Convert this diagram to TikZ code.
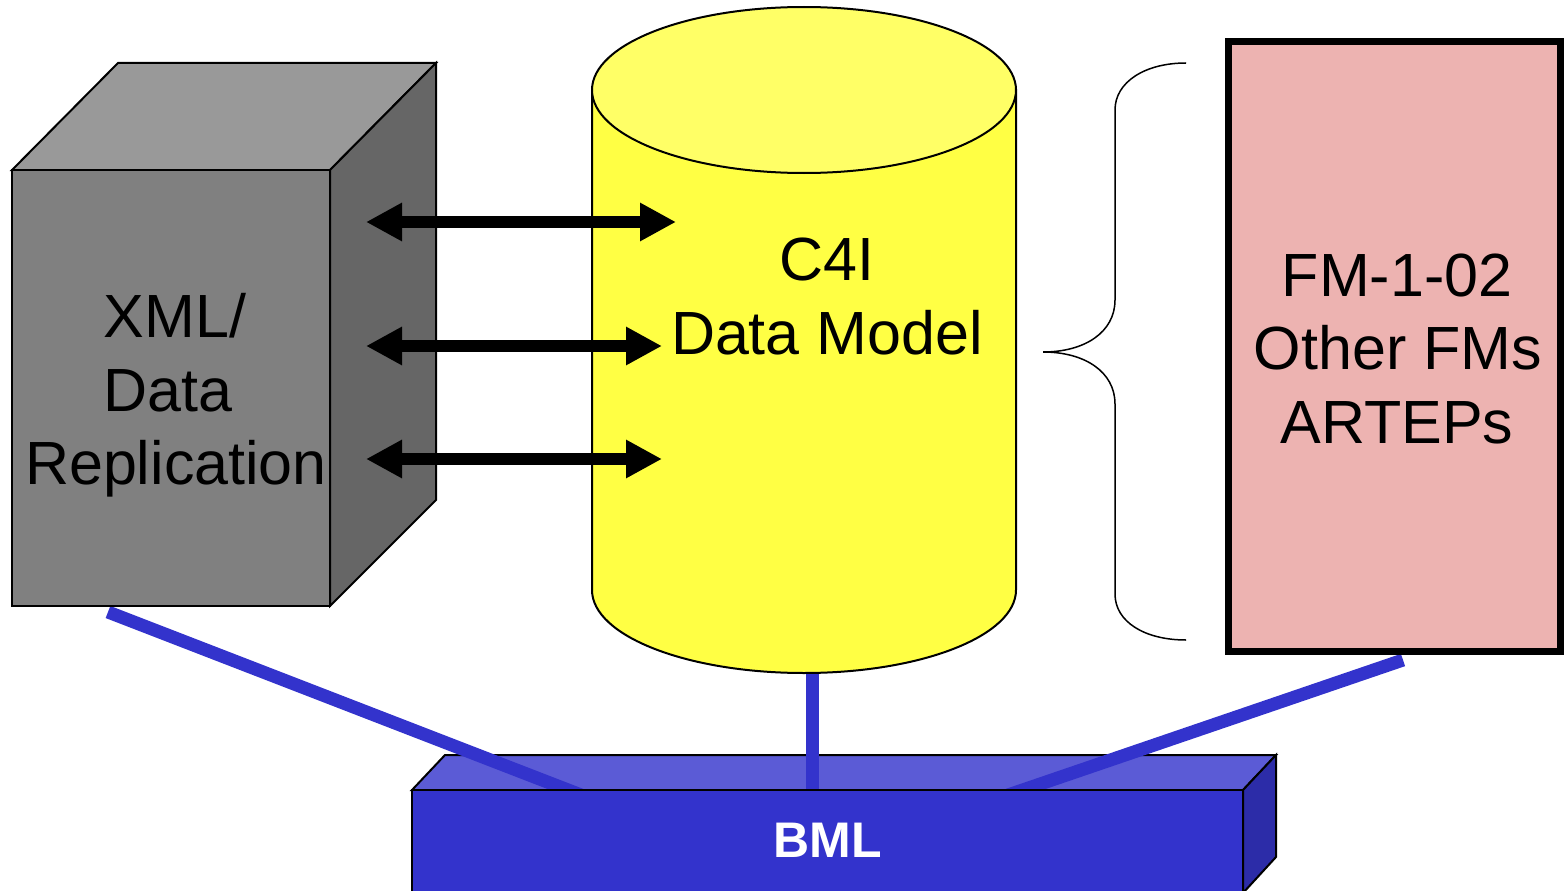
\documentclass[tikz,border=0pt]{standalone}
\usepackage{fontspec}
\setmainfont{Liberation Sans}
\usetikzlibrary{arrows.meta}
\definecolor{cubefront}{HTML}{808080}
\definecolor{cubetop}{HTML}{999999}
\definecolor{cubeside}{HTML}{666666}
\definecolor{cylside}{HTML}{FFFF44}
\definecolor{cyltop}{HTML}{FFFF66}
\definecolor{fmpink}{HTML}{EDB3B1}
\definecolor{bmlfront}{HTML}{3333CC}
\definecolor{bmltop}{HTML}{5B5BD6}
\definecolor{bmlside}{HTML}{2C2CA8}
\begin{document}
\begin{tikzpicture}[x=1pt,y=-1pt,
  outline/.style={draw=black,line width=2pt,line join=miter},
  label/.style={font=\fontsize{61}{74}\selectfont,anchor=base,inner sep=0pt},
  buslabel/.style={font=\fontsize{50}{60}\selectfont\bfseries,text=white,anchor=base,inner sep=0pt},
  exchange/.style={line width=12pt,
    {Triangle[length=36pt,width=36pt]}-{Triangle[length=36pt,width=36pt]}},
  bus/.style={draw=bmlfront,line width=13pt},
  brace/.style={draw=black,line width=1.5pt}]
\useasboundingbox (0,0) rectangle (1564,891);

% --- BML bar: back faces first, so the links lie over its top
\filldraw[outline,fill=bmltop] (412,790) -- (445,755) -- (1276,755) -- (1243,790) -- cycle;
\filldraw[outline,fill=bmlside] (1243,790) -- (1276,755) -- (1276,857) -- (1243,893) -- cycle;

% --- links into the BML bar
\coordinate (cubeFoot) at (108,612);
\coordinate (cylFoot) at (812,671);
\coordinate (fmFoot) at (1403,660);
\coordinate (busL) at (581,795);
\coordinate (busM) at (812,795);
\coordinate (busR) at (1008,795);
\draw[bus] (cubeFoot) -- (busL);
\draw[bus] (cylFoot) -- (busM);
\draw[bus] (fmFoot) -- (busR);

% --- BML bar front face
\filldraw[outline,fill=bmlfront] (412,790) rectangle (1243,893);
\node[buslabel] (bml) at (828,857) {BML};

% --- XML / Data Replication cube
\filldraw[outline,fill=cubetop] (12,170) -- (118,63) -- (436,63) -- (330,170) -- cycle;
\filldraw[outline,fill=cubeside] (330,170) -- (436,63) -- (436,500) -- (330,606) -- cycle;
\filldraw[outline,fill=cubefront] (12,170) rectangle (330,606);
\node[label] (xml1) at (175,337) {XML/};
\node[label] (xml2) at (168,411) {Data};
\node[label] (xml3) at (176,484) {Replication};

% --- C4I data model cylinder
\filldraw[outline,fill=cylside] (592,90) -- (592,590)
  arc[start angle=180,end angle=360,x radius=212pt,y radius=83pt] -- (1016,90) -- cycle;
\filldraw[outline,fill=cyltop] (804,90) ellipse[x radius=212pt,y radius=83pt];
\node[label] (c4i1) at (827,280) {C4I};
\node[label] (c4i2) at (827,354) {Data Model};

% --- doctrine box
\filldraw[draw=black,line width=7pt,fill=fmpink] (1228.5,41.5) rectangle (1560,651);
\node[label] (fm1) at (1397,296) {FM-1-02};
\node[label] (fm2) at (1398,369) {Other FMs};
\node[label] (fm3) at (1397,443) {ARTEPs};

% --- exchanges between the cube and the cylinder
\coordinate (aL1) at (366,222); \coordinate (aR1) at (676,222);
\coordinate (aL2) at (366,346); \coordinate (aR2) at (662,346);
\coordinate (aL3) at (366,459); \coordinate (aR3) at (662,459);
\draw[exchange] (aL1) -- (aR1);
\draw[exchange] (aL2) -- (aR2);
\draw[exchange] (aL3) -- (aR3);

% --- brace grouping the doctrine sources
\coordinate (braceTop) at (1186,63);
\coordinate (braceTip) at (1043,352);
\coordinate (braceBot) at (1186,640);
\draw[brace] (braceTop) .. controls (1145,63) and (1115,82) .. (1115,110)
  -- (1115,300) .. controls (1115,332) and (1085,352) .. (braceTip)
  .. controls (1085,352) and (1115,372) .. (1115,404)
  -- (1115,594) .. controls (1115,622) and (1145,640) .. (braceBot);
\end{tikzpicture}
\end{document}
